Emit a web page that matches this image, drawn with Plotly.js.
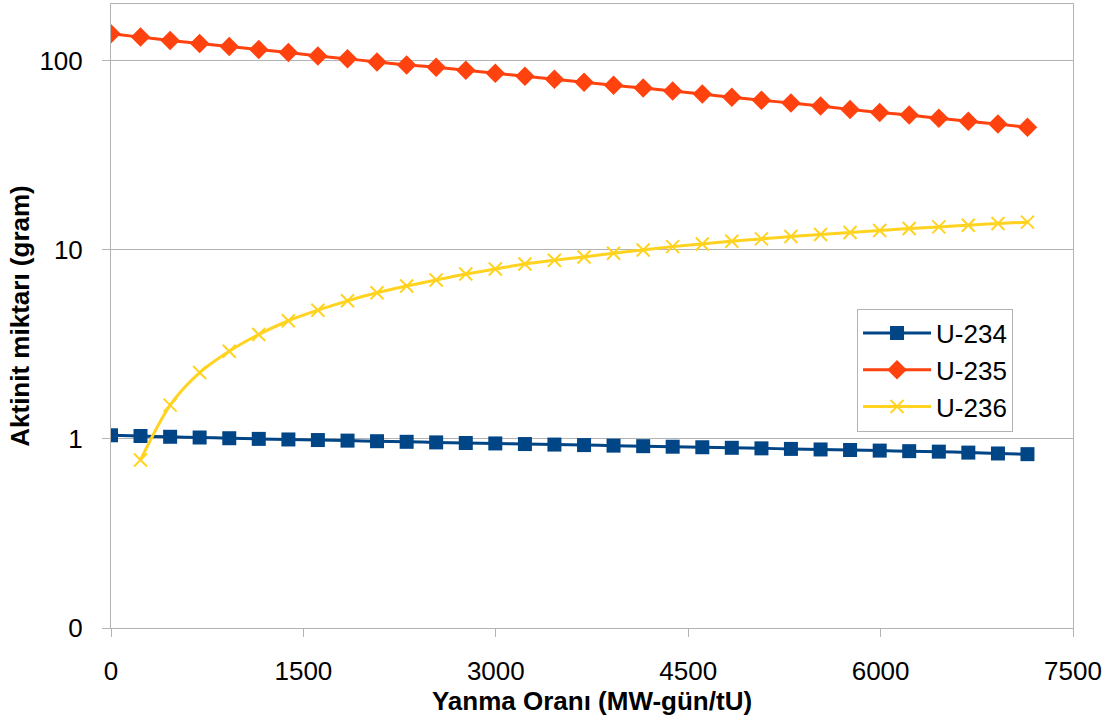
<!DOCTYPE html>
<html>
<head>
<meta charset="utf-8">
<script src="https://cdn.plot.ly/plotly-3.0.1.min.js"></script>
<style>
html,body{margin:0;padding:0;background:#fff;}
#chart{width:1113px;height:720px;}
</style>
</head>
<body>
<div id="chart"></div>
<script>
// Burnup (MW-gün/tU)
const burnup = [0, 230, 461, 691, 922, 1152, 1383, 1613, 1844, 2074, 2305, 2535, 2766, 2996, 3227, 3457,
                3688, 3918, 4149, 4379, 4610, 4840, 5071, 5301, 5532, 5762, 5993, 6223, 6454, 6684, 6915, 7145];
// Actinide amounts (gram)
const u234 = [1.046, 1.037, 1.027, 1.018, 1.009, 1.001, 0.994, 0.987, 0.980, 0.973, 0.966, 0.959, 0.952, 0.947, 0.940, 0.934,
              0.928, 0.922, 0.916, 0.910, 0.904, 0.898, 0.892, 0.886, 0.880, 0.874, 0.868, 0.862, 0.857, 0.847, 0.838, 0.831];
const u235 = [139.1, 133.6, 128.2, 123.5, 119.1, 114.8, 110.7, 106.3, 102.5, 98.8, 95.2, 92.6, 89.3, 86.0, 82.9, 80.0,
              77.1, 74.3, 71.9, 69.3, 66.8, 64.2, 61.9, 59.9, 57.7, 55.4, 53.4, 51.7, 49.7, 47.9, 46.3, 44.5];
const u236 = [null, 0.774, 1.51, 2.245, 2.912, 3.57, 4.22, 4.80, 5.38, 5.94, 6.44, 6.93, 7.46, 7.93, 8.43, 8.82,
              9.18, 9.61, 10.0, 10.41, 10.76, 11.12, 11.44, 11.77, 12.06, 12.36, 12.66, 12.97, 13.24, 13.52, 13.79, 14.03];

const seriesNames = ['U-234', 'U-235', 'U-236'];
const yTickVals = [0.1, 1, 10, 100];
const yTickText = ['0', '1', '10', '100'];
const xTickVals = [0, 1500, 3000, 4500, 6000, 7500];

const FONT = 'Liberation Sans, Arial, sans-serif';
const GRID = '#b3b3b3';

const traces = [
  {
    x: burnup, y: u234, name: seriesNames[0], type: 'scatter', mode: 'lines+markers',
    line: {color: '#004586', width: 3, shape: 'spline', smoothing: 0.6},
    marker: {symbol: 'square', size: 14, color: '#004586'}
  },
  {
    x: burnup, y: u235, name: seriesNames[1], type: 'scatter', mode: 'lines+markers',
    line: {color: '#ff420e', width: 3, shape: 'spline', smoothing: 0.6},
    marker: {symbol: 'diamond', size: 15, color: '#ff420e'}
  },
  {
    x: burnup, y: u236, name: seriesNames[2], type: 'scatter', mode: 'lines+markers',
    connectgaps: false,
    line: {color: '#ffd320', width: 3, shape: 'spline', smoothing: 0.8},
    marker: {symbol: 'x-thin-open', size: 13, color: '#ffd320', line: {color: '#ffd320', width: 2}}
  }
];

const layout = {
  width: 1113, height: 720,
  margin: {l: 111, r: 40, t: 4, b: 92},
  paper_bgcolor: '#ffffff', plot_bgcolor: '#ffffff',
  font: {family: FONT, size: 26, color: '#000'},
  showlegend: true,
  legend: {
    x: 0.7755, y: 0.512, xanchor: 'left', yanchor: 'top',
    itemwidth: 68,
    bgcolor: '#ffffff', bordercolor: GRID, borderwidth: 1,
    font: {family: FONT, size: 26, color: '#000'}
  },
  xaxis: {
    range: [0, 7500], tickvals: xTickVals, ticktext: xTickVals.map(String),
    showgrid: false, zeroline: false,
    showline: true, linecolor: GRID, linewidth: 1, mirror: true,
    ticks: 'outside', ticklen: 8, tickcolor: GRID, tickwidth: 1,
    ticklabelstandoff: 12,
    tickfont: {family: FONT, size: 26, color: '#000'},
    title: {text: 'Yanma Oranı (MW-gün/tU)', standoff: 0,
            font: {family: FONT, size: 26, color: '#000', weight: 'bold'}}
  },
  yaxis: {
    type: 'log', range: [-1, 2.301],
    tickvals: yTickVals, ticktext: yTickText,
    showgrid: true, gridcolor: GRID, gridwidth: 1, zeroline: false,
    showline: true, linecolor: GRID, linewidth: 1, mirror: true,
    ticks: 'outside', ticklen: 8, tickcolor: GRID, tickwidth: 1,
    ticklabelstandoff: 14,
    tickfont: {family: FONT, size: 26, color: '#000'},
    title: {text: 'Aktinit miktarı (gram)', standoff: 2,
            font: {family: FONT, size: 26, color: '#000', weight: 'bold'}}
  }
};

Plotly.newPlot('chart', traces, layout, {displayModeBar: false, staticPlot: true});
</script>
</body>
</html>
